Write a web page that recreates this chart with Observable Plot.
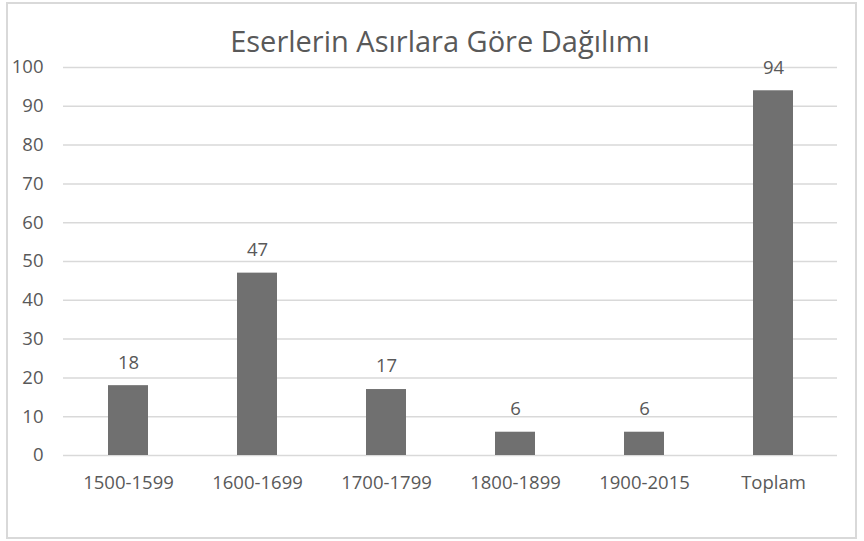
<!DOCTYPE html>
<html>
<head>
<meta charset="utf-8">
<script src="https://cdn.jsdelivr.net/npm/d3@7"></script>
<script src="https://cdn.jsdelivr.net/npm/@observablehq/plot@0.6"></script>
<style>
  body { margin: 0; background: #fff; font-family: "Open Sans", sans-serif; }
  #wrap { position: relative; width: 864px; height: 541px; overflow: hidden; }
  #frame { position: absolute; left: 6px; top: 2px; width: 847px; height: 533px; border: 2px solid #d9d9d9; }
  #title { position: absolute; left: 0; top: 24px; width: 880px; text-align: center; font-size: 29px; color: #595959; line-height: 1.2; }
  #chart { position: absolute; left: 0; top: 0; }
</style>
</head>
<body>
<div id="wrap">
  <div id="frame"></div>
  <div id="chart"></div>
  <div id="title">Eserlerin Asırlara Göre Dağılımı</div>
</div>
<script>
const categories = ["1500-1599", "1600-1699", "1700-1799", "1800-1899", "1900-2015", "Toplam"];
const counts = [18, 47, 17, 6, 6, 94];
const yTicks = [0, 10, 20, 30, 40, 50, 60, 70, 80, 90, 100];

const data = categories.map((c, i) => ({category: c, count: counts[i]}));

const chart = Plot.plot({
  width: 864,
  height: 541,
  marginTop: 67,
  marginBottom: 86,
  marginLeft: 63,
  marginRight: 27,
  style: {fontFamily: "Open Sans, sans-serif", fontSize: "18.5px", color: "#595959", background: "transparent"},
  x: {domain: categories, paddingInner: 0.69, paddingOuter: 0.345, label: null, tickSize: 0, tickPadding: 20},
  y: {domain: [0, 100], ticks: yTicks, label: null, tickSize: 0, tickPadding: 20},
  marks: [
    Plot.ruleY(yTicks, {stroke: "#d9d9d9", strokeWidth: 1.5}),
    Plot.barY(data, {x: "category", y: "count", fill: "#707070"}),
    Plot.text(data, {x: "category", y: "count", text: d => String(d.count), dy: -23, fill: "#595959", fontSize: 18.5}),
    Plot.axisX({tickSize: 0, tickPadding: 20, fill: "#595959", fontSize: 18.5, label: null}),
    Plot.axisY({ticks: yTicks, tickSize: 0, tickPadding: 20, fill: "#595959", fontSize: 18.5, label: null})
  ]
});
document.getElementById("chart").appendChild(chart);
</script>
</body>
</html>
